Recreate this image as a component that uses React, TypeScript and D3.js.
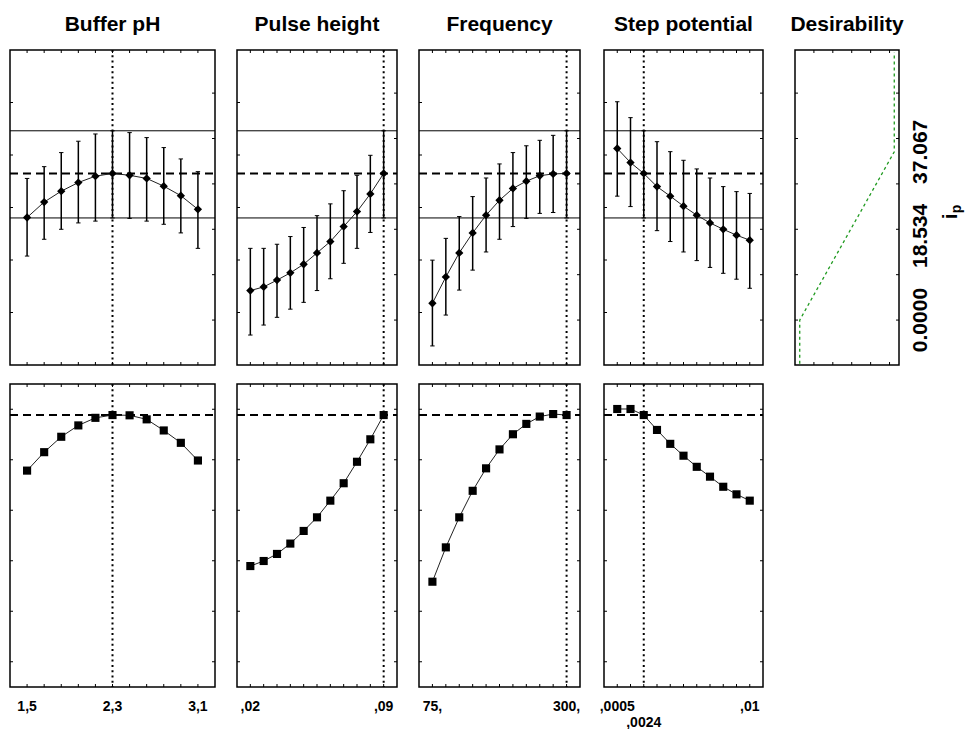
import React, { useEffect, useRef } from "react";
import * as d3 from "d3";

// factor titles and levels (11 levels each)
const factorNames = ["Buffer pH", "Pulse height", "Frequency", "Step potential"];
const phLevels = [1.5, 1.66, 1.82, 1.98, 2.14, 2.3, 2.46, 2.62, 2.78, 2.94, 3.1];
const pulseLevels = [0.02, 0.027, 0.034, 0.041, 0.048, 0.055, 0.062, 0.069, 0.076, 0.083, 0.09];
const freqLevels = [75, 97.5, 120, 142.5, 165, 187.5, 210, 232.5, 255, 277.5, 300];
const stepLevels = [0.0005, 0.00145, 0.0024, 0.00335, 0.0043, 0.00525, 0.0062, 0.00715, 0.0081, 0.00905, 0.01];
const currentLevels = [2.3, 0.09, 300, 0.0024];

// predicted ip with confidence limits
const phIp = [22.6, 26.0, 28.4, 30.3, 31.7, 32.3, 31.9, 31.2, 29.5, 27.4, 24.4];
const phLow = [14.1, 17.8, 20.0, 21.4, 21.8, 22.5, 22.4, 21.8, 21.1, 19.2, 15.8];
const phHigh = [31.2, 33.8, 36.9, 39.4, 41.0, 41.7, 41.3, 40.2, 38.0, 35.5, 32.7];

const pulseIp = [6.5, 7.3, 8.8, 10.4, 12.3, 14.8, 17.3, 20.6, 23.9, 27.8, 32.3];
const pulseLow = [-3.3, -1.1, 0.6, 2.4, 3.9, 6.5, 9.1, 12.5, 15.8, 19.3, 22.5];
const pulseHigh = [15.8, 15.8, 16.7, 18.4, 20.4, 23.0, 25.6, 28.5, 31.9, 36.3, 41.7];

const freqIp = [3.7, 9.5, 14.8, 19.2, 23.1, 26.4, 29.0, 30.6, 31.8, 32.2, 32.3];
const freqLow = [-5.7, 1.1, 6.6, 11.0, 15.0, 17.8, 20.6, 22.4, 23.5, 23.7, 22.5];
const freqHigh = [13.2, 18.0, 22.8, 27.2, 31.3, 34.4, 36.9, 38.4, 39.6, 40.7, 41.7];

const stepIp = [37.8, 34.7, 32.3, 29.4, 27.3, 25.1, 23.1, 21.4, 20.0, 18.7, 17.6];
const stepLow = [27.3, 25.0, 22.5, 19.7, 17.3, 15.0, 13.1, 11.6, 10.3, 9.0, 7.0];
const stepHigh = [48.1, 44.6, 41.7, 39.3, 37.1, 35.2, 33.3, 31.3, 29.4, 28.3, 27.9];

const ipPred = 32.3;
const ipCiLow = 22.5;
const ipCiHigh = 41.7;

// overall desirability
const phDes = [0.757, 0.83, 0.891, 0.936, 0.966, 0.977, 0.976, 0.96, 0.916, 0.867, 0.797];
const pulseDes = [0.379, 0.399, 0.427, 0.468, 0.518, 0.572, 0.638, 0.707, 0.792, 0.881, 0.977];
const freqDes = [0.317, 0.453, 0.572, 0.677, 0.766, 0.841, 0.901, 0.942, 0.971, 0.981, 0.977];
const stepDes = [1.001, 1.001, 0.977, 0.918, 0.863, 0.816, 0.772, 0.733, 0.693, 0.663, 0.638];
const desPred = 0.977;

// desirability function of ip
const desFnIp = [-9.6, 0, 37.067, 59.0];
const desFnVal = [0, 0, 1, 1];
const ipLabelValues = [0, 18.534, 37.067];
const ipLabelText = ["0.0000", "18.534", "37.067"];

// x tick labels
const tickValues = [[1.5, 2.3, 3.1], [0.02, 0.09], [75, 300], [0.0005, 0.01]];
const tickTexts = [["1,5", "2,3", "3,1"], [",02", ",09"], ["75,", "300,"], [",0005", ",01"]];
const secondRowValue = 0.0024;
const secondRowText = ",0024";

const levels = [phLevels, pulseLevels, freqLevels, stepLevels];
const ipVals = [phIp, pulseIp, freqIp, stepIp];
const lows = [phLow, pulseLow, freqLow, stepLow];
const highs = [phHigh, pulseHigh, freqHigh, stepHigh];
const desVals = [phDes, pulseDes, freqDes, stepDes];

export default function App() {
  const ref = useRef(null);

  useEffect(() => {
    const svg = d3.select(ref.current);
    svg.selectAll("*").remove();

    const panelX = [[10, 215], [237, 397], [419, 580], [604, 763]];
    const topY = [50, 365];
    const botY = [384, 687];
    const desX = [795, 899];
    const font = "'Liberation Sans', Arial, sans-serif";

    const yIp = d3.scaleLinear().domain([-9.9, 59.5]).range([topY[1], topY[0]]);
    const yDes = d3.scaleLinear().domain([-0.1, 1.1]).range([botY[1], botY[0]]);
    const ipTicks = [0, 10, 20, 30, 40, 50];
    const leftTicks = d3.range(1, 6).map((i) => -9.9 + (i * 69.4) / 6);
    const desTicks = [0, 0.2, 0.4, 0.6, 0.8, 1.0];

    const tick = 3;

    function frame(g, x0, x1, y0, y1) {
      g.append("rect")
        .attr("x", x0)
        .attr("y", y0)
        .attr("width", x1 - x0)
        .attr("height", y1 - y0)
        .attr("fill", "white")
        .attr("stroke", "black")
        .attr("stroke-width", 1.5);
    }

    levels.forEach((lv, i) => {
      const step = lv[1] - lv[0];
      const x = d3
        .scaleLinear()
        .domain([lv[0] - step, lv[lv.length - 1] + step])
        .range(panelX[i]);
      const [x0, x1] = panelX[i];

      svg
        .append("text")
        .attr("x", (x0 + x1) / 2)
        .attr("y", 31)
        .attr("text-anchor", "middle")
        .style("font-family", font)
        .style("font-weight", "bold")
        .style("font-size", "21px")
        .text(factorNames[i]);

      // ---- top panel (ip)
      const top = svg.append("g");
      frame(top, x0, x1, topY[0], topY[1]);

      lv.forEach((v) => {
        top.append("line").attr("x1", x(v)).attr("x2", x(v)).attr("y1", topY[0]).attr("y2", topY[0] + tick).attr("stroke", "black");
        top.append("line").attr("x1", x(v)).attr("x2", x(v)).attr("y1", topY[1]).attr("y2", topY[1] - tick).attr("stroke", "black");
      });
      leftTicks.forEach((v) => {
        top.append("line").attr("x1", x0).attr("x2", x0 + tick).attr("y1", yIp(v)).attr("y2", yIp(v)).attr("stroke", "black");
      });
      ipTicks.forEach((v) => {
        top.append("line").attr("x1", x1).attr("x2", x1 - tick).attr("y1", yIp(v)).attr("y2", yIp(v)).attr("stroke", "black");
      });

      [ipCiLow, ipCiHigh].forEach((v) => {
        top.append("line").attr("x1", x0).attr("x2", x1).attr("y1", yIp(v)).attr("y2", yIp(v)).attr("stroke", "black").attr("stroke-width", 1);
      });
      top.append("line")
        .attr("x1", x0).attr("x2", x1)
        .attr("y1", yIp(ipPred)).attr("y2", yIp(ipPred))
        .attr("stroke", "black").attr("stroke-width", 2)
        .attr("stroke-dasharray", "8,5");
      top.append("line")
        .attr("x1", x(currentLevels[i])).attr("x2", x(currentLevels[i]))
        .attr("y1", topY[0]).attr("y2", topY[1])
        .attr("stroke", "black").attr("stroke-width", 2)
        .attr("stroke-dasharray", "2,3.3");

      // error bars
      lv.forEach((v, j) => {
        const cx = x(v);
        top.append("line").attr("x1", cx).attr("x2", cx).attr("y1", yIp(highs[i][j])).attr("y2", yIp(lows[i][j])).attr("stroke", "black").attr("stroke-width", 1.5);
        [highs[i][j], lows[i][j]].forEach((e) => {
          top.append("line").attr("x1", cx - 2.2).attr("x2", cx + 2.2).attr("y1", yIp(e)).attr("y2", yIp(e)).attr("stroke", "black").attr("stroke-width", 1);
        });
      });

      const lineTop = d3.line().x((d) => x(d[0])).y((d) => yIp(d[1]));
      top.append("path")
        .attr("d", lineTop(lv.map((v, j) => [v, ipVals[i][j]])))
        .attr("fill", "none").attr("stroke", "#222").attr("stroke-width", 1);
      top.selectAll("path.pt")
        .data(lv.map((v, j) => [v, ipVals[i][j]]))
        .enter()
        .append("path")
        .attr("d", d3.symbol(d3.symbolDiamond2).size(44))
        .attr("transform", (d) => `translate(${x(d[0])},${yIp(d[1])})`)
        .attr("fill", "black");

      // ---- bottom panel (desirability)
      const bot = svg.append("g");
      frame(bot, x0, x1, botY[0], botY[1]);
      lv.forEach((v) => {
        bot.append("line").attr("x1", x(v)).attr("x2", x(v)).attr("y1", botY[0]).attr("y2", botY[0] + tick).attr("stroke", "black");
        bot.append("line").attr("x1", x(v)).attr("x2", x(v)).attr("y1", botY[1]).attr("y2", botY[1] - tick).attr("stroke", "black");
      });
      desTicks.forEach((v) => {
        bot.append("line").attr("x1", x0).attr("x2", x0 + tick).attr("y1", yDes(v)).attr("y2", yDes(v)).attr("stroke", "black");
        bot.append("line").attr("x1", x1).attr("x2", x1 - tick).attr("y1", yDes(v)).attr("y2", yDes(v)).attr("stroke", "black");
      });
      bot.append("line")
        .attr("x1", x0).attr("x2", x1)
        .attr("y1", yDes(desPred)).attr("y2", yDes(desPred))
        .attr("stroke", "black").attr("stroke-width", 2)
        .attr("stroke-dasharray", "8,5");
      bot.append("line")
        .attr("x1", x(currentLevels[i])).attr("x2", x(currentLevels[i]))
        .attr("y1", botY[0]).attr("y2", botY[1])
        .attr("stroke", "black").attr("stroke-width", 2)
        .attr("stroke-dasharray", "2,3.3");
      const lineBot = d3.line().x((d) => x(d[0])).y((d) => yDes(d[1]));
      bot.append("path")
        .attr("d", lineBot(lv.map((v, j) => [v, desVals[i][j]])))
        .attr("fill", "none").attr("stroke", "#222").attr("stroke-width", 1);
      bot.selectAll("path.pt")
        .data(lv.map((v, j) => [v, desVals[i][j]]))
        .enter()
        .append("path")
        .attr("d", d3.symbol(d3.symbolSquare).size(66))
        .attr("transform", (d) => `translate(${x(d[0])},${yDes(d[1])})`)
        .attr("fill", "black");

      // x labels
      tickValues[i].forEach((v, k) => {
        svg.append("text")
          .attr("x", x(v))
          .attr("y", 711)
          .attr("text-anchor", "middle")
          .style("font-family", font)
          .style("font-weight", "bold")
          .style("font-size", "14px")
          .text(tickTexts[i][k]);
      });
      if (i === 3) {
        svg.append("text")
          .attr("x", x(secondRowValue))
          .attr("y", 727)
          .attr("text-anchor", "middle")
          .style("font-family", font)
          .style("font-weight", "bold")
          .style("font-size", "14px")
          .text(secondRowText);
      }
    });

    // ---- desirability panel
    const xD = d3.scaleLinear().domain([-0.05, 1.05]).range(desX);
    svg.append("text")
      .attr("x", (desX[0] + desX[1]) / 2)
      .attr("y", 31)
      .attr("text-anchor", "middle")
      .style("font-family", font)
      .style("font-weight", "bold")
      .style("font-size", "21px")
      .text("Desirability");
    const dg = svg.append("g");
    frame(dg, desX[0], desX[1], topY[0], topY[1]);
    [0.15, 0.35, 0.55, 0.75, 0.95].forEach((v) => {
      dg.append("line").attr("x1", xD(v)).attr("x2", xD(v)).attr("y1", topY[0]).attr("y2", topY[0] + tick).attr("stroke", "black");
      dg.append("line").attr("x1", xD(v)).attr("x2", xD(v)).attr("y1", topY[1]).attr("y2", topY[1] - tick).attr("stroke", "black");
    });
    ipTicks.forEach((v) => {
      dg.append("line").attr("x1", desX[0]).attr("x2", desX[0] + tick).attr("y1", yIp(v)).attr("y2", yIp(v)).attr("stroke", "black");
      dg.append("line").attr("x1", desX[1]).attr("x2", desX[1] - tick).attr("y1", yIp(v)).attr("y2", yIp(v)).attr("stroke", "black");
    });
    const desLine = d3.line().x((d) => xD(d[1])).y((d) => yIp(d[0]));
    dg.append("path")
      .attr("d", desLine(desFnIp.map((v, j) => [v, desFnVal[j]])))
      .attr("fill", "none")
      .attr("stroke", "#1f9a1f")
      .attr("stroke-width", 1.3)
      .attr("stroke-dasharray", "3,3");

    ipLabelValues.forEach((v, k) => {
      svg.append("text")
        .attr("transform", `translate(927,${yIp(v)}) rotate(-90)`)
        .attr("text-anchor", "middle")
        .style("font-family", font)
        .style("font-weight", "bold")
        .style("font-size", "21px")
        .text(ipLabelText[k]);
    });
    const ip = svg.append("text")
      .attr("transform", `translate(957,212) rotate(-90)`)
      .attr("text-anchor", "middle")
      .style("font-family", font)
      .style("font-weight", "bold")
      .style("font-size", "21px");
    ip.append("tspan").text("i");
    ip.append("tspan").attr("dy", 4).style("font-size", "14px").text("p");
  }, []);

  return (
    <svg
      ref={ref}
      width={971}
      height={729}
      style={{ position: "absolute", left: 0, top: 0, background: "white" }}
    />
  );
}
